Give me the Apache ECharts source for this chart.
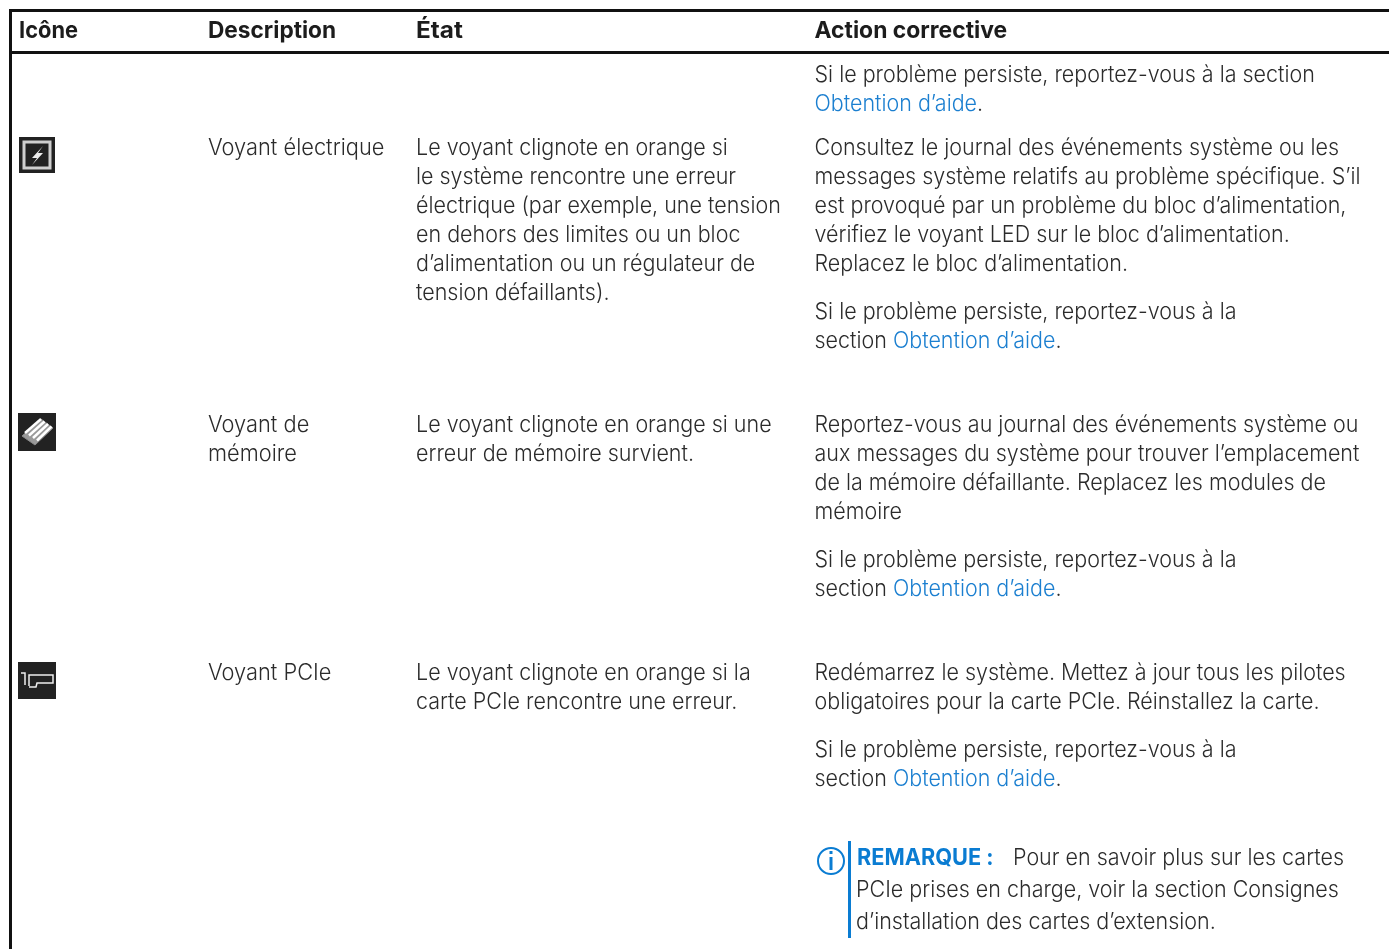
<!DOCTYPE html>
<html><head><meta charset="utf-8">
<style>html,body{margin:0;padding:0;background:#fff}#c{width:1389px;height:949px}</style>
<script src="https://cdn.jsdelivr.net/npm/echarts@6/dist/echarts.min.js"></script>
</head><body><div id="c"></div>
<script>
const headers = ["Icône","Description","État","Action corrective"];
const descriptionBlocks = [
  ["Voyant électrique"],
  ["Voyant de","mémoire"],
  ["Voyant PCIe"]
];
const stateBlocks = [
  ["Le voyant clignote en orange si","le système rencontre une erreur","électrique (par exemple, une tension","en dehors des limites ou un bloc","d’alimentation ou un régulateur de","tension défaillants)."],
  ["Le voyant clignote en orange si une","erreur de mémoire survient."],
  ["Le voyant clignote en orange si la","carte PCIe rencontre une erreur."]
];
const actionBlocks = [
  ["Si le problème persiste, reportez-vous à la section","{l|Obtention d’aide}."],
  ["Consultez le journal des événements système ou les","messages système relatifs au problème spécifique. S’il","est provoqué par un problème du bloc d’alimentation,","vérifiez le voyant LED sur le bloc d’alimentation.","Replacez le bloc d’alimentation."],
  ["Si le problème persiste, reportez-vous à la","section {l|Obtention d’aide}."],
  ["Reportez-vous au journal des événements système ou","aux messages du système pour trouver l’emplacement","de la mémoire défaillante. Replacez les modules de","mémoire"],
  ["Si le problème persiste, reportez-vous à la","section {l|Obtention d’aide}."],
  ["Redémarrez le système. Mettez à jour tous les pilotes","obligatoires pour la carte PCIe. Réinstallez la carte."],
  ["Si le problème persiste, reportez-vous à la","section {l|Obtention d’aide}."]
];
const noteLabel = "REMARQUE :";
const noteLines = ["Pour en savoir plus sur les cartes","PCIe prises en charge, voir la section Consignes","d’installation des cartes d’extension."];

const FONT = "Inter, sans-serif", SIZE = 22.5, INK = "#2b2b2b", BLUE = "#0A7CD2", LINK="#1B7FD0";
const colX = [19,208,416,814.5], rowH = 29, BODY_SX=0.955;
const descY=[148,425,673], stateY=[148,425,673], actionY=[75,148,312,425,560,673,750], noteY=[858,890,922];
const els = [];
function t(x,y,s,extra,sx){
  els.push({type:"text",x,y,scaleX:sx||BODY_SX,silent:true,style:Object.assign({
    text:s,fill:INK,font:`300 ${SIZE}px ${FONT}`,verticalAlign:"middle",
    rich:{l:{fill:LINK,fontFamily:"Inter",fontSize:SIZE,fontWeight:300}}
  },extra||{})});
}
function block(x,y,lines,sx){lines.forEach((s,i)=>t(x,y+i*rowH,s,null,sx));}
const rect=(x,y,w,h,fill)=>els.push({type:"rect",silent:true,shape:{x,y,width:w,height:h},style:{fill}});
rect(9,9,1380,3,"#111");rect(9,51,1380,3,"#111");rect(9,9,3,940,"#111");
const headerSx=[0.95,0.985,1.06,0.995];
headers.forEach((h,i)=>t(colX[i],31,h,{font:`700 23px ${FONT}`,fill:"#1c1c1c"},headerSx[i]));
descriptionBlocks.forEach((b,i)=>block(colX[1],descY[i],b,0.97));
stateBlocks.forEach((b,i)=>block(colX[2],stateY[i],b));
actionBlocks.forEach((b,i)=>block(colX[3],actionY[i],b));
t(857,noteY[0],noteLabel,{font:`700 23px ${FONT}`,fill:BLUE},0.945);
t(1013,noteY[0],noteLines[0]);
t(856,noteY[1],noteLines[1]);
t(856,noteY[2],noteLines[2]);
rect(848,841,3,97,BLUE);
els.push({type:"circle",silent:true,shape:{cx:831,cy:861,r:13},style:{fill:"none",stroke:BLUE,lineWidth:2}});
rect(829.5,857,3,13,BLUE);rect(829.5,851,3,3,BLUE);
rect(19,137,36,36,"#222");
els.push({type:"rect",silent:true,shape:{x:24,y:142,width:26,height:26},style:{fill:"none",stroke:"#cfcfcf",lineWidth:3}});
els.push({type:"polygon",silent:true,shape:{points:[[43,146],[32,158],[37,158],[32,165],[43,153],[38,153]]},style:{fill:"#eee"}});
rect(18,413,38,38,"#222");
els.push({type:"polygon",silent:true,shape:{points:[[22,436],[41,419],[53,428],[35,445]]},style:{fill:"#999",stroke:"#888",lineWidth:1}});
[0,1,2,3].forEach(i=>els.push({type:"line",silent:true,shape:{x1:25+i*4,y1:433+i*2.5,x2:41+i*3.5,y2:419+i*2.5},style:{stroke:"#fff",lineWidth:2.5}}));
rect(18,662,38,37,"#222");
els.push({type:"polyline",silent:true,shape:{points:[[21,673],[25,673],[25,685]]},style:{stroke:"#eee",lineWidth:1.5,fill:"none"}});
els.push({type:"polyline",silent:true,shape:{points:[[29,686],[29,675],[53,675],[53,683],[37,683],[36,687],[29,687]]},style:{stroke:"#eee",lineWidth:1.5,fill:"none"}});
const chart=echarts.init(document.getElementById("c"),null,{renderer:"canvas",width:1389,height:949});
chart.setOption({animation:false,backgroundColor:"#fff",graphic:{elements:els}});
</script></body></html>
